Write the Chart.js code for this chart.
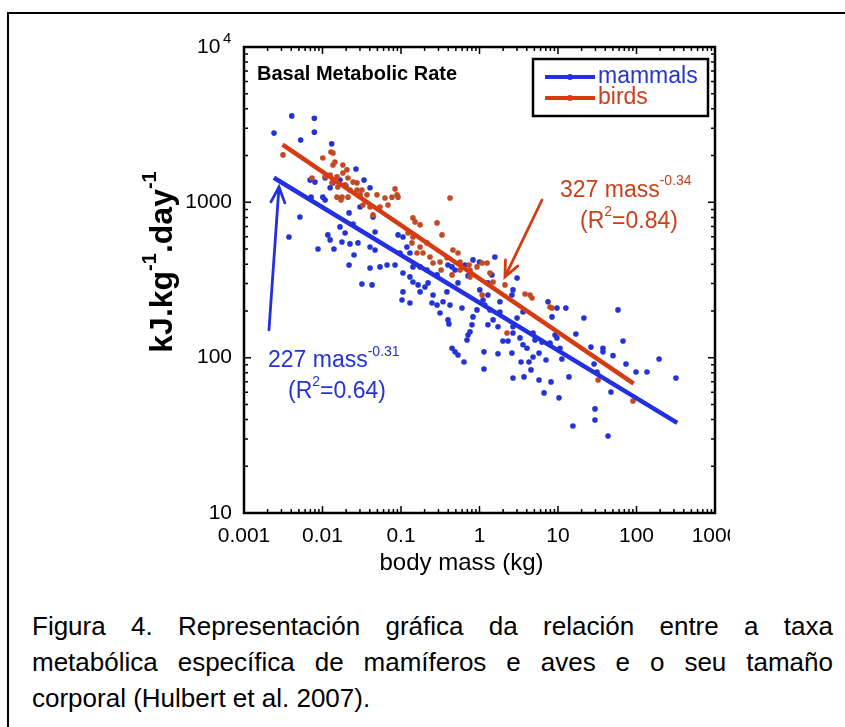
<!DOCTYPE html>
<html lang="en">
<head>
  <meta charset="UTF-8">
  <title>Basal Metabolic Rate - mammals and birds</title>
  <script src="https://cdn.jsdelivr.net/npm/chart.js@4"></script>
  <style>
    html, body { margin: 0; padding: 0; background: #fff; overflow: hidden; }
    body { width: 845px; height: 727px; position: relative; font-family: "Liberation Sans", Arial, Helvetica, sans-serif; }
    .frame { position: absolute; left: 7px; top: 12px; width: 900px; height: 800px; border: 2px solid #000; }
    .chart-box { position: absolute; left: 120px; top: 20px; }
    .caption { position: absolute; left: 32px; top: 608px; width: 801px; font-size: 26px; line-height: 36px; color: #000; }
    .caption .jl { text-align: justify; text-align-last: justify; }
  </style>
</head>
<body>
  <div class="frame"></div>

  <!-- Chart -->
  <div class="chart-box">
    <canvas id="bmrChart" width="610" height="570"></canvas>
  </div>

  <!-- Caption -->
  <div class="caption">
    <div class="jl">Figura 4. Representación gráfica da relación entre a taxa</div>
    <div class="jl">metabólica específica de mamíferos e aves e o seu tamaño</div>
    <div>corporal (Hulbert et al. 2007).</div>
  </div>

  <script>
    // body mass (kg) and basal metabolic rate (kJ/kg/day)
    const mammalMass = [
      0.00406, 0.00787, 0.00241, 0.00787, 0.00527, 0.0131, 0.0267, 0.0338, 0.00694, 0.00801,
      0.00715, 0.00516, 0.00374, 0.00877, 0.0140, 0.0117, 0.0125, 0.0167, 0.0194, 0.0177,
      0.0224, 0.0283, 0.0218, 0.0245, 0.0252, 0.0218, 0.0403, 0.0467, 0.0467, 0.0440,
      0.0540, 0.0664, 0.0840, 0.0403, 0.0917, 0.106, 0.119, 0.130, 0.0970, 0.142,
      0.175, 0.214, 0.397, 0.447, 0.106, 0.130, 0.653, 0.826, 0.0101, 0.0108,
      0.0301, 0.0403, 0.0108, 0.0136, 0.0167, 0.0199, 0.0125, 1.57, 3.01, 7.46,
      9.70, 12.6, 8.39, 21.4, 58.1, 16.9, 67.3, 26.3, 37.4, 37.4,
      50.2, 73.5, 98.6, 136, 194, 318, 28.8, 31.4, 47.3, 29.6,
      29.6, 15.5, 43.4, 13.8, 10.3, 6.64, 8.15, 5.73, 2.67, 3.69,
      4.53, 1.14, 1.14, 1.72, 2.59, 3.38, 4.27, 4.81, 5.73, 7.03,
      11.2, 3.58, 4.03, 5.09, 6.25, 7.91, 9.70, 10.6, 1.99, 2.31,
      3.28, 4.81, 9.16, 1.49, 1.28, 1.82, 1.72, 2.67, 2.67, 1.17,
      1.36, 1.82, 2.67, 2.59, 3.58, 3.01, 1.28, 1.11, 0.0318, 0.0428,
      0.106, 0.103, 0.130, 0.142, 0.165, 0.202, 0.221, 0.248, 0.288, 0.343,
      0.421, 0.314, 0.397, 0.408, 0.256, 0.385, 0.447, 0.488, 0.532, 0.635,
      0.693, 0.715, 0.757, 0.802, 0.598, 0.929, 0.826, 0.532, 0.715, 1.01,
      0.175, 0.288, 0.488, 1.28, 1.44, 1.0
    ];
    const mammalRate = [
      3600, 3480, 2790, 2830, 2520, 2380, 1640, 1390, 1390, 1350,
      1080, 805, 598, 501, 501, 617, 573, 695, 635, 556,
      540, 548, 855, 726, 458, 395, 516, 493, 644, 805,
      384, 395, 395, 378, 617, 598, 516, 472, 472, 384,
      384, 367, 395, 384, 351, 331, 395, 426, 1080, 1035,
      933, 1240, 1435, 1335, 1390, 1275, 1240, 445, 326, 229,
      209, 209, 183, 180, 203, 142, 128, 117, 115, 109,
      103, 91, 80.9, 80.9, 98, 74, 91, 80.9, 60.1, 46.8,
      39.7, 36.3, 31.3, 75.2, 55.1, 59.3, 69.8, 71.8, 74, 75.2,
      83.4, 84.6, 109, 106, 107, 93.8, 93.8, 101, 107, 96.6,
      98, 121, 115, 130, 126, 124, 134, 115, 128, 128,
      134, 144, 140, 175, 163, 197, 158, 144, 158, 218,
      203, 229, 273, 253, 197, 180, 253, 235, 298, 294,
      265, 235, 225, 307, 294, 285, 303, 225, 218, 229,
      218, 194, 175, 165, 253, 265, 115, 109, 104, 93.8,
      130, 140, 147, 163, 209, 203, 183, 303, 336, 273,
      265, 341, 367, 303, 341, 413
    ];
    const birdMass = [
      0.00314, 0.0128, 0.0136, 0.0101, 0.0144, 0.0136, 0.0182, 0.0205, 0.0108, 0.0125,
      0.0153, 0.0182, 0.0211, 0.0245, 0.0132, 0.0157, 0.0194, 0.0224, 0.0275, 0.0177,
      0.0211, 0.0301, 0.0369, 0.0494, 0.0153, 0.0172, 0.00735, 0.0840, 0.0889, 0.0767,
      0.0917, 0.421, 0.0540, 0.0328, 0.0403, 0.0440, 0.142, 0.151, 0.175, 0.288,
      0.333, 0.123, 0.142, 0.138, 0.214, 0.175, 0.191, 0.160, 0.459, 0.532,
      0.256, 0.314, 0.447, 0.565, 0.757, 1.08, 1.25, 1.36, 2.11, 3.80,
      4.40, 4.67, 7.91, 8.39, 90.2, 32.4, 2.24, 1.08, 1.49, 0.324,
      0.735, 0.234, 0.385, 0.565, 0.757, 0.929, 0.0275, 0.0318, 0.0625, 0.0682
    ];
    const birdRate = [
      2020, 2110, 2080, 1930, 1820, 1740, 1740, 1620, 1460, 1500,
      1460, 1545, 1435, 1350, 1335, 1257, 1295, 1200, 1200, 1080,
      1080, 1117, 1117, 1117, 1080, 1035, 1435, 1220, 1117, 1080,
      1080, 1067, 933, 961, 933, 830, 794, 748, 716, 737,
      617, 635, 598, 548, 548, 516, 472, 472, 493, 472,
      407, 413, 341, 367, 331, 407, 407, 351, 294, 257,
      253, 242, 212, 209, 52.6, 71.8, 144, 253, 307, 367,
      395, 445, 440, 413, 367, 384, 1335, 1200, 1067, 961
    ];

    // fitted power laws, end points as drawn
    const mammalFitMass = [0.0024, 330];
    const mammalFitRate = [1440, 38];
    const birdFitMass = [0.0031, 92];
    const birdFitRate = [2350, 68];

    // axes (the top y label gets its exponent drawn by the plugin)
    const xTicks = [0.001, 0.01, 0.1, 1, 10, 100, 1000];
    const xTickLabels = ['0.001', '0.01', '0.1', '1', '10', '100', '1000'];
    const yTicks = [10, 100, 1000, 10000];
    const yTickLabels = ['10', '100', '1000', '10'];

    const FONT = '"Liberation Sans", Arial, Helvetica, sans-serif';
    const BLUE = '#2434d4';
    const BLUE_LINE = '#2330e0';
    const RED = '#c8401c';
    const RED_DOT = '#c24a24';
    const RED_LINE = '#d63c12';

    const toPoints = (xs, ys) => xs.map((v, i) => ({ x: v, y: ys[i] }));

    // text with superscripts: parts = [[text, isSup], ...]
    function drawRich(ctx, parts, x, y, size, color, weight) {
      let cx = x;
      ctx.fillStyle = color;
      ctx.textBaseline = 'alphabetic';
      ctx.textAlign = 'left';
      parts.forEach(([t, sup]) => {
        const s = sup ? Math.round(size * 0.62) : size;
        ctx.font = (weight || '') + ' ' + s + 'px ' + FONT;
        ctx.fillText(t, cx, sup ? y - size * 0.5 : y);
        cx += ctx.measureText(t).width;
      });
      return cx - x;
    }
    function richWidth(ctx, parts, size, weight) {
      let w = 0;
      parts.forEach(([t, sup]) => {
        ctx.font = (weight || '') + ' ' + (sup ? Math.round(size * 0.62) : size) + 'px ' + FONT;
        w += ctx.measureText(t).width;
      });
      return w;
    }

    function arrow(ctx, x0, y0, x1, y1, color) {
      const a = Math.atan2(y1 - y0, x1 - x0), len = 17, spread = 0.42;
      ctx.strokeStyle = color;
      ctx.lineWidth = 2.8;
      ctx.lineCap = 'round';
      ctx.beginPath();
      ctx.moveTo(x0, y0);
      ctx.lineTo(x1, y1);
      ctx.moveTo(x1 - len * Math.cos(a - spread), y1 - len * Math.sin(a - spread));
      ctx.lineTo(x1, y1);
      ctx.lineTo(x1 - len * Math.cos(a + spread), y1 - len * Math.sin(a + spread));
      ctx.stroke();
    }

    // annotations in data coordinates
    const notes = [
      { x: 10.6, y: 1084, color: RED, parts: [['327 mass', false], ['-0.34', true]] },
      { x: 19.1, y: 684, color: RED, parts: [['(R', false], ['2', true], ['=0.84)', false]] },
      { x: 0.00202, y: 87, color: BLUE, parts: [['227 mass', false], ['-0.31', true]] },
      { x: 0.00364, y: 55, color: BLUE, parts: [['(R', false], ['2', true], ['=0.64)', false]] }
    ];
    const arrows = [
      { from: [0.00208, 151], to: [0.00279, 1257], color: BLUE_LINE },
      { from: [6.25, 1035], to: [2.11, 331], color: RED_LINE }
    ];

    const decor = {
      id: 'decor',
      afterDatasetsDraw(chart) {
        const { ctx, scales: { x, y } } = chart;
        ctx.save();
        arrows.forEach(a => arrow(ctx,
          x.getPixelForValue(a.from[0]), y.getPixelForValue(a.from[1]),
          x.getPixelForValue(a.to[0]), y.getPixelForValue(a.to[1]), a.color));
        notes.forEach(n => drawRich(ctx, n.parts, x.getPixelForValue(n.x), y.getPixelForValue(n.y), 23, n.color));
        ctx.restore();
      },
      afterDraw(chart) {
        const { ctx, chartArea: ca, scales: { x, y } } = chart;
        ctx.save();

        // box and inward ticks on all four sides
        ctx.strokeStyle = '#000';
        ctx.lineWidth = 2.5;
        ctx.strokeRect(ca.left, ca.top, ca.right - ca.left, ca.bottom - ca.top);
        ctx.lineWidth = 1.5;
        ctx.beginPath();
        const logTicks = (min, max) => {
          const out = [];
          for (let e = Math.round(Math.log10(min)); e < Math.round(Math.log10(max)); e++) {
            for (let m = 1; m < 10; m++) out.push({ v: m * Math.pow(10, e), major: m === 1 });
          }
          return out;
        };
        logTicks(x.min, x.max).forEach(t => {
          const px = x.getPixelForValue(t.v), l = t.major ? 7 : 4;
          ctx.moveTo(px, ca.bottom); ctx.lineTo(px, ca.bottom - l);
          ctx.moveTo(px, ca.top); ctx.lineTo(px, ca.top + l);
        });
        logTicks(y.min, y.max).forEach(t => {
          const py = y.getPixelForValue(t.v), l = t.major ? 7 : 4;
          ctx.moveTo(ca.left, py); ctx.lineTo(ca.left + l, py);
          ctx.moveTo(ca.right, py); ctx.lineTo(ca.right - l, py);
        });
        ctx.stroke();

        // exponent of the top y tick label (10^4)
        ctx.fillStyle = '#000';
        ctx.font = '15px ' + FONT;
        ctx.textAlign = 'left';
        ctx.textBaseline = 'alphabetic';
        ctx.fillText('4', ca.left - 21, y.getPixelForValue(y.max) - 4);

        // panel title
        ctx.font = 'bold 20px ' + FONT;
        ctx.fillText('Basal Metabolic Rate', ca.left + 13, ca.top + 33);

        // legend
        const lx = ca.right - 182, ly = ca.top + 12;
        ctx.lineWidth = 2.5;
        ctx.strokeStyle = '#000';
        ctx.strokeRect(lx, ly, 175, 57);
        [['mammals', BLUE_LINE, BLUE], ['birds', RED_LINE, RED]].forEach(([label, lc, tc], i) => {
          const ry = ly + 18 + i * 21;
          ctx.strokeStyle = lc;
          ctx.lineWidth = 4;
          ctx.beginPath(); ctx.moveTo(lx + 12, ry); ctx.lineTo(lx + 62, ry); ctx.stroke();
          ctx.fillStyle = lc;
          ctx.beginPath(); ctx.arc(lx + 37, ry, 3, 0, Math.PI * 2); ctx.fill();
          ctx.fillStyle = tc;
          ctx.font = '23px ' + FONT;
          ctx.textBaseline = 'middle';
          ctx.fillText(label, lx + 65, ry);
        });

        // axis titles
        ctx.fillStyle = '#000';
        ctx.font = '24px ' + FONT;
        ctx.textAlign = 'center';
        ctx.textBaseline = 'middle';
        ctx.fillText('body mass (kg)', (ca.left + ca.right) / 2 - 18, ca.bottom + 50);

        const yParts = [['kJ.kg', false], ['-1', true], ['.day', false], ['-1', true]];
        const w = richWidth(ctx, yParts, 32, 'bold');
        ctx.translate(ca.left - 72, (ca.top + ca.bottom) / 2 - 18);
        ctx.rotate(-Math.PI / 2);
        drawRich(ctx, yParts, -w / 2, 0, 32, '#000', 'bold');
        ctx.restore();
      }
    };

    new Chart(document.getElementById('bmrChart'), {
      type: 'scatter',
      data: {
        datasets: [
          { label: 'mammals fit', data: toPoints(mammalFitMass, mammalFitRate), showLine: true,
            borderColor: BLUE_LINE, borderWidth: 4.5, pointRadius: 0, order: 0 },
          { label: 'birds fit', data: toPoints(birdFitMass, birdFitRate), showLine: true,
            borderColor: RED_LINE, borderWidth: 4.5, pointRadius: 0, order: 0 },
          { label: 'birds', data: toPoints(birdMass, birdRate),
            backgroundColor: RED_DOT, pointRadius: 2.8, borderWidth: 0, order: 1 },
          { label: 'mammals', data: toPoints(mammalMass, mammalRate),
            backgroundColor: BLUE, pointRadius: 2.8, borderWidth: 0, order: 2 }
        ]
      },
      options: {
        responsive: false,
        animation: false,
        layout: { padding: { top: 27, right: 15, left: 0, bottom: 0 } },
        plugins: { legend: { display: false }, tooltip: { enabled: false } },
        scales: {
          x: {
            type: 'logarithmic', position: 'bottom', min: 0.001, max: 1000,
            grid: { display: false, drawTicks: false }, border: { display: false },
            afterBuildTicks: s => { s.ticks = xTicks.map(v => ({ value: v })); },
            afterFit: s => { s.height = 77; s.paddingLeft = 0; s.paddingRight = 0; },
            ticks: { color: '#000', font: { family: FONT, size: 21 }, padding: 11, maxRotation: 0, autoSkip: false,
              callback: (v, i) => xTickLabels[i] }
          },
          y: {
            type: 'logarithmic', position: 'left', min: 10, max: 10000,
            grid: { display: false, drawTicks: false }, border: { display: false },
            afterBuildTicks: s => { s.ticks = yTicks.map(v => ({ value: v })); },
            afterFit: s => { s.width = 124; s.paddingTop = 0; s.paddingBottom = 0; },
            ticks: { color: '#000', font: { family: FONT, size: 21 }, padding: 12, autoSkip: false,
              callback: (v, i) => (i === yTicks.length - 1 ? yTickLabels[i] + '  ' : yTickLabels[i]) }
          }
        }
      },
      plugins: [decor]
    });
  </script>
</body>
</html>
